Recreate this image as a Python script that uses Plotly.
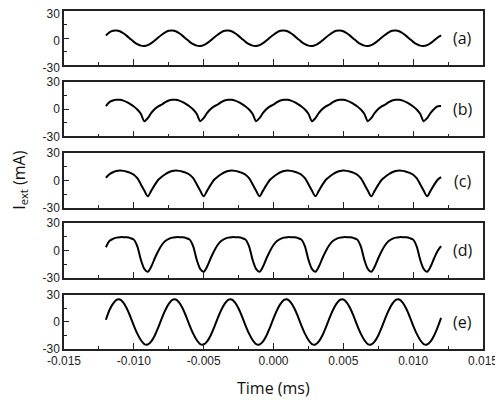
import plotly.graph_objects as go
from plotly.subplots import make_subplots

# sampling times (ms), one row per period of the drive
time_ms = [
    -0.012, -0.01175, -0.0115, -0.01125, -0.011, -0.01075, -0.0105, -0.01025,
    -0.01, -0.00975, -0.0095, -0.00925, -0.009, -0.00875, -0.0085, -0.00825,
    -0.008, -0.00775, -0.0075, -0.00725, -0.007, -0.00675, -0.0065, -0.00625,
    -0.006, -0.00575, -0.0055, -0.00525, -0.005, -0.00475, -0.0045, -0.00425,
    -0.004, -0.00375, -0.0035, -0.00325, -0.003, -0.00275, -0.0025, -0.00225,
    -0.002, -0.00175, -0.0015, -0.00125, -0.001, -0.00075, -0.0005, -0.00025,
    0.0, 0.00025, 0.0005, 0.00075, 0.001, 0.00125, 0.0015, 0.00175,
    0.002, 0.00225, 0.0025, 0.00275, 0.003, 0.00325, 0.0035, 0.00375,
    0.004, 0.00425, 0.0045, 0.00475, 0.005, 0.00525, 0.0055, 0.00575,
    0.006, 0.00625, 0.0065, 0.00675, 0.007, 0.00725, 0.0075, 0.00775,
    0.008, 0.00825, 0.0085, 0.00875, 0.009, 0.00925, 0.0095, 0.00975,
    0.01, 0.01025, 0.0105, 0.01075, 0.011, 0.01125, 0.0115, 0.01175,
    0.012,
]

# I_ext (mA)
current_a = [
    2.8, 6.3, 8.0, 8.4, 7.5, 5.3, 2.4, -1.0, -4.2, -6.8, -8.4, -8.8, -7.8, -5.6, -2.6, 0.6,
    3.6, 6.3, 8.0, 8.4, 7.5, 5.3, 2.4, -1.0, -4.2, -6.8, -8.4, -8.8, -7.8, -5.6, -2.6, 0.6,
    3.6, 6.3, 8.0, 8.4, 7.5, 5.3, 2.4, -1.0, -4.2, -6.8, -8.4, -8.8, -7.8, -5.6, -2.6, 0.6,
    3.6, 6.3, 8.0, 8.4, 7.5, 5.3, 2.4, -1.0, -4.2, -6.8, -8.4, -8.8, -7.8, -5.6, -2.6, 0.6,
    3.6, 6.3, 8.0, 8.4, 7.5, 5.3, 2.4, -1.0, -4.2, -6.8, -8.4, -8.8, -7.8, -5.6, -2.6, 0.6,
    3.6, 6.3, 8.0, 8.4, 7.5, 5.3, 2.4, -1.0, -4.2, -6.8, -8.4, -8.8, -7.8, -5.6, -2.6, 0.6,
    3.0,
]
current_b = [
    3.5, 7.8, 9.6, 10.4, 10.3, 9.4, 7.8, 5.6, 3.0, -0.3, -5.0, -13.2, -9.8, -4.0, 0.3, 3.2,
    5.0, 7.8, 9.6, 10.4, 10.3, 9.4, 7.8, 5.6, 3.0, -0.3, -5.0, -13.2, -9.8, -4.0, 0.3, 3.2,
    5.0, 7.8, 9.6, 10.4, 10.3, 9.4, 7.8, 5.6, 3.0, -0.3, -5.0, -13.2, -9.8, -4.0, 0.3, 3.2,
    5.0, 7.8, 9.6, 10.4, 10.3, 9.4, 7.8, 5.6, 3.0, -0.3, -5.0, -13.2, -9.8, -4.0, 0.3, 3.2,
    5.0, 7.8, 9.6, 10.4, 10.3, 9.4, 7.8, 5.6, 3.0, -0.3, -5.0, -13.2, -9.8, -4.0, 0.3, 3.2,
    5.0, 7.8, 9.6, 10.4, 10.3, 9.4, 7.8, 5.6, 3.0, -0.3, -5.0, -13.2, -9.8, -4.0, 0.3, 3.2,
    3.5,
]
current_c = [
    3.0, 6.8, 9.0, 10.3, 10.8, 10.5, 9.6, 8.3, 6.3, 2.5, -4.0, -11.0, -17.2, -11.0, -4.8, 0.8,
    4.0, 6.8, 9.0, 10.3, 10.8, 10.5, 9.6, 8.3, 6.3, 2.5, -4.0, -11.0, -17.2, -11.0, -4.8, 0.8,
    4.0, 6.8, 9.0, 10.3, 10.8, 10.5, 9.6, 8.3, 6.3, 2.5, -4.0, -11.0, -17.2, -11.0, -4.8, 0.8,
    4.0, 6.8, 9.0, 10.3, 10.8, 10.5, 9.6, 8.3, 6.3, 2.5, -4.0, -11.0, -17.2, -11.0, -4.8, 0.8,
    4.0, 6.8, 9.0, 10.3, 10.8, 10.5, 9.6, 8.3, 6.3, 2.5, -4.0, -11.0, -17.2, -11.0, -4.8, 0.8,
    4.0, 6.8, 9.0, 10.3, 10.8, 10.5, 9.6, 8.3, 6.3, 2.5, -4.0, -11.0, -17.2, -11.0, -4.8, 0.8,
    3.7,
]
current_d = [
    3.5, 10.3, 12.6, 14.0, 14.5, 14.5, 14.3, 13.5, 11.8, 4.5, -10.0, -20.0, -23.2, -17.5, -8.5, -0.5,
    6.0, 10.3, 12.6, 14.0, 14.5, 14.5, 14.3, 13.5, 11.8, 4.5, -10.0, -20.0, -23.2, -17.5, -8.5, -0.5,
    6.0, 10.3, 12.6, 14.0, 14.5, 14.5, 14.3, 13.5, 11.8, 4.5, -10.0, -20.0, -23.2, -17.5, -8.5, -0.5,
    6.0, 10.3, 12.6, 14.0, 14.5, 14.5, 14.3, 13.5, 11.8, 4.5, -10.0, -20.0, -23.2, -17.5, -8.5, -0.5,
    6.0, 10.3, 12.6, 14.0, 14.5, 14.5, 14.3, 13.5, 11.8, 4.5, -10.0, -20.0, -23.2, -17.5, -8.5, -0.5,
    6.0, 10.3, 12.6, 14.0, 14.5, 14.5, 14.3, 13.5, 11.8, 4.5, -10.0, -20.0, -23.2, -17.5, -8.5, -0.5,
    4.6,
]
current_e = [
    2.5, 13.0, 20.0, 24.5, 25.0, 21.5, 15.0, 6.0, -4.0, -13.0, -20.0, -24.5, -25.0, -21.5, -15.0, -6.0,
    4.0, 13.0, 20.0, 24.5, 25.0, 21.5, 15.0, 6.0, -4.0, -13.0, -20.0, -24.5, -25.0, -21.5, -15.0, -6.0,
    4.0, 13.0, 20.0, 24.5, 25.0, 21.5, 15.0, 6.0, -4.0, -13.0, -20.0, -24.5, -25.0, -21.5, -15.0, -6.0,
    4.0, 13.0, 20.0, 24.5, 25.0, 21.5, 15.0, 6.0, -4.0, -13.0, -20.0, -24.5, -25.0, -21.5, -15.0, -6.0,
    4.0, 13.0, 20.0, 24.5, 25.0, 21.5, 15.0, 6.0, -4.0, -13.0, -20.0, -24.5, -25.0, -21.5, -15.0, -6.0,
    4.0, 13.0, 20.0, 24.5, 25.0, 21.5, 15.0, 6.0, -4.0, -13.0, -20.0, -24.5, -25.0, -21.5, -15.0, -6.0,
    4.5,
]

panel_labels = ['(a)', '(b)', '(c)', '(d)', '(e)']

x_tick_vals = [-0.015, -0.01, -0.005, 0.0, 0.005, 0.01, 0.015]
x_tick_text = ['-0.015', '-0.010', '-0.005', '0.000', '0.005', '0.010', '0.015']
x_minor_vals = [-0.0125, -0.0075, -0.0025, 0.0025, 0.0075, 0.0125]
y_tick_vals = [-30, 0, 30]
y_tick_text = ['-30', '0', '30']
y_minor_vals = [-15, 15]

currents = [current_a, current_b, current_c, current_d, current_e]
domains = [[0.840, 1.0], [0.629, 0.790], [0.417, 0.580], [0.210, 0.373], [0.0, 0.160]]

frame_color = '#222222'
tick_font = dict(family='Liberation Sans, Arial', size=12, color='#222222')
label_font = dict(family='Open Sans', size=16, color='#111111')

fig = make_subplots(rows=5, cols=1, shared_xaxes=True)

for i, current in enumerate(currents):
    row = i + 1
    fig.add_trace(go.Scatter(x=time_ms, y=current, mode='lines',
                             line=dict(color='black', width=2, shape='spline', smoothing=0.8),
                             showlegend=False, hoverinfo='skip'),
                  row=row, col=1)
    fig.update_yaxes(domain=domains[i], range=[-30, 30], automargin=False,
                     ticklabeloverflow='allow',
                     # top label of the first panel sits right at the page edge
                     ticklabelshift=3 if row == 1 else 0,
                     tickmode='array', tickvals=y_tick_vals, ticktext=y_tick_text,
                     ticks='inside', ticklen=5, tickwidth=1, tickcolor=frame_color,
                     minor=dict(tickvals=y_minor_vals, ticks='inside', ticklen=3,
                                tickwidth=1, tickcolor=frame_color),
                     showline=True, mirror=True, linecolor=frame_color, linewidth=1.5,
                     showgrid=False, zeroline=False, tickfont=tick_font,
                     row=row, col=1)
    fig.update_xaxes(range=[-0.015, 0.015], automargin=False,
                     ticklabeloverflow='allow',
                     tickmode='array', tickvals=x_tick_vals, ticktext=x_tick_text,
                     ticks='inside', ticklen=6, tickwidth=1, tickcolor=frame_color,
                     minor=dict(tickvals=x_minor_vals, ticks='inside', ticklen=3,
                                tickwidth=1, tickcolor=frame_color),
                     showline=True, mirror=True, linecolor=frame_color, linewidth=1.5,
                     showgrid=False, zeroline=False, tickfont=tick_font,
                     showticklabels=(row == 5),
                     row=row, col=1)
    yref = 'y' if row == 1 else f'y{row}'
    fig.add_annotation(x=0.952, xref='paper', y=0, yref=yref, text=panel_labels[i],
                       showarrow=False, xanchor='center', yanchor='middle', font=label_font)

fig.add_annotation(x=-0.108, xref='paper', y=0.5, yref='paper', text='I<sub>ext</sub> (mA)',
                   textangle=-90, showarrow=False, xanchor='center', yanchor='middle',
                   font=label_font)
fig.add_annotation(x=0.5, xref='paper', y=-0.115, yref='paper', text='Time (ms)',
                   showarrow=False, xanchor='center', yanchor='middle', font=label_font)

# the page body adds an 8px offset, so the figure is 8px smaller than the window
fig.update_layout(width=495, height=395,
                  margin=dict(l=56, r=20, t=3, b=54),
                  paper_bgcolor='white', plot_bgcolor='white',
                  showlegend=False)

fig.write_html("out.html")
